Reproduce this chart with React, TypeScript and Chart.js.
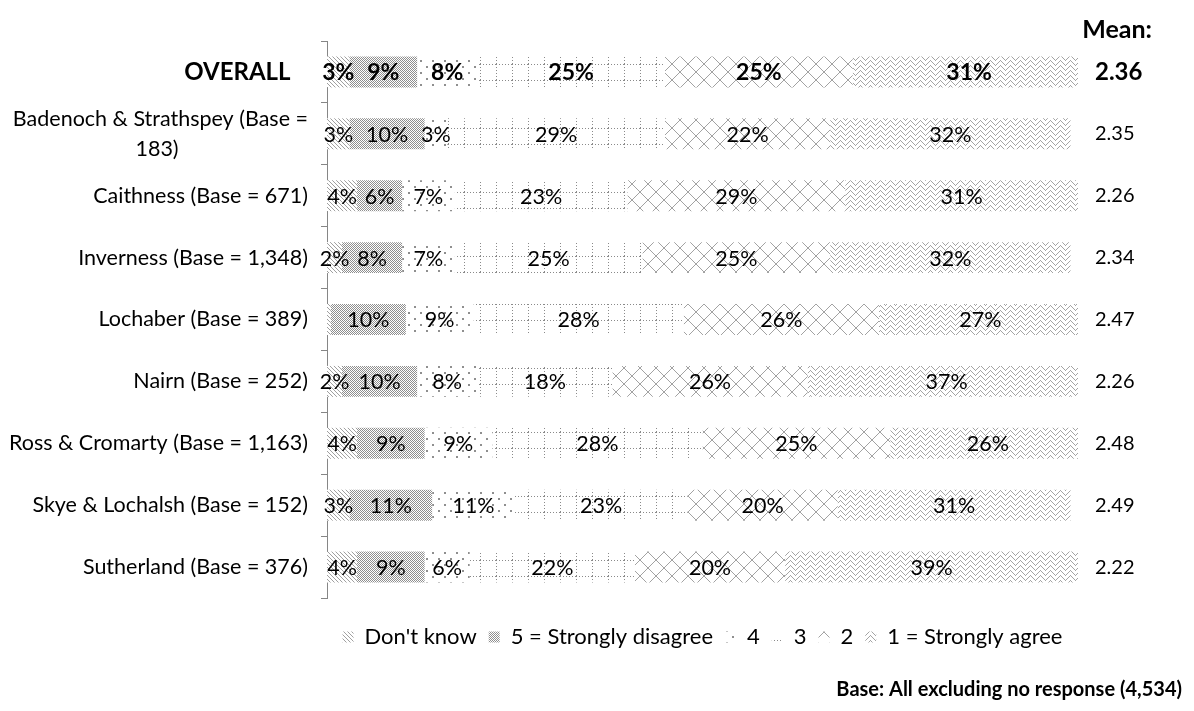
import { useEffect, useRef } from 'react';
import { Chart, registerables } from 'chart.js';

Chart.register(...registerables);

const categories: (string | string[])[] = [
  'OVERALL   ',
  ['Badenoch & Strathspey (Base =', '183)\u2003\u2003\u2003\u2003\u2003\u2003\u2003   '],
  'Caithness (Base = 671)',
  'Inverness (Base = 1,348)',
  'Lochaber (Base = 389)',
  'Nairn (Base = 252)',
  'Ross & Cromarty (Base = 1,163)',
  'Skye & Lochalsh (Base = 152)',
  'Sutherland (Base = 376)',
];
const seriesNames = ["Don't know", '5 = Strongly disagree', '4', '3', '2', '1 = Strongly agree'];
const dontKnow = [3, 3, 4, 2, 0.5, 2, 4, 3, 4];
const disagree5 = [9, 10, 6, 8, 10, 10, 9, 11, 9];
const four = [8, 3, 7, 7, 9, 8, 9, 11, 6];
const three = [25, 29, 23, 25, 28, 18, 28, 23, 22];
const two = [25, 22, 29, 25, 26, 26, 25, 20, 20];
const agree1 = [31, 32, 31, 32, 27, 37, 26, 31, 39];
const means = ['2.36', '2.35', '2.26', '2.34', '2.47', '2.26', '2.48', '2.49', '2.22'];
const meanTitle = 'Mean:';
const footnote = 'Base: All excluding no response (4,534)';

const FONT = 'Lato';

function makeTile(w: number, h: number, draw: (px: (x: number, y: number, s?: number) => void) => void, color: string) {
  const c = document.createElement('canvas');
  c.width = w;
  c.height = h;
  const g = c.getContext('2d')!;
  g.fillStyle = '#ffffff';
  g.fillRect(0, 0, w, h);
  g.fillStyle = color;
  draw((x, y, s = 1) => g.fillRect(x, y, s, s));
  return c;
}

function buildPatterns(ctx: CanvasRenderingContext2D) {
  const tiles = [
    // Don't know: light diagonal
    makeTile(4, 4, (px) => { for (let i = 0; i < 4; i++) px(i, i); }, '#a0a0a0'),
    // 5: fine checker
    makeTile(2, 2, (px) => { px(0, 0); px(1, 1); }, '#8e8e8e'),
    // 4: sparse staggered dots
    makeTile(12, 12, (px) => { px(0, 0, 2); px(6, 6, 2); }, '#8f8f8f'),
    // 3: dotted grid
    makeTile(16, 16, (px) => {
      for (let i = 0; i < 16; i += 3) { px(i, 0); px(0, i); }
    }, '#8a8a8a'),
    // 2: diamond lattice
    makeTile(16, 16, (px) => {
      for (let i = 0; i < 16; i++) { px(i, i); px(15 - i, i); }
    }, '#a2a2a2'),
    // 1: zigzag weave
    makeTile(10, 10, (px) => {
      for (let x = 0; x < 10; x++) {
        const y = x <= 5 ? x : 10 - x;
        px(x, y);
        px(x, (y + 5) % 10);
      }
    }, '#a4a4a4'),
  ];
  return tiles.map((t) => ctx.createPattern(t, 'repeat') as CanvasPattern);
}

const segLabels = {
  id: 'segLabels',
  afterDatasetsDraw(chart: any) {
    const ctx = chart.ctx as CanvasRenderingContext2D;
    ctx.save();
    ctx.textAlign = 'center';
    ctx.textBaseline = 'middle';
    ctx.fillStyle = '#000';
    chart.data.datasets.forEach((ds: any, di: number) => {
      const meta = chart.getDatasetMeta(di);
      meta.data.forEach((el: any, i: number) => {
        const v = ds.data[i];
        if (v == null || v < 1) return;
        const { x, base, y } = el.getProps(['x', 'base', 'y'], true);
        ctx.font = i === 0 ? `bold 23px ${FONT}` : `21.5px ${FONT}`;
        ctx.fillText(`${Math.round(v)}%`, (x + base) / 2, y + 1);
      });
    });
    ctx.restore();
  },
};

const extraText = {
  id: 'extraText',
  afterDraw(chart: any) {
    const ctx = chart.ctx as CanvasRenderingContext2D;
    ctx.save();
    ctx.fillStyle = '#000';
    ctx.textAlign = 'right';
    ctx.textBaseline = 'middle';
    ctx.font = `bold 25px ${FONT}`;
    ctx.fillText(meanTitle, chart.width - 42, 30);
    ctx.font = `bold 20px ${FONT}`;
    ctx.fillText(footnote, chart.width - 12, 690);
    ctx.restore();
  },
};

export default function App() {
  const ref = useRef<HTMLCanvasElement>(null);
  useEffect(() => {
    const canvas = ref.current!;
    const ctx = canvas.getContext('2d')!;
    const pats = buildPatterns(ctx);
    const values = [dontKnow, disagree5, four, three, two, agree1];
    const chart = new Chart(ctx, {
      type: 'bar',
      data: {
        labels: categories,
        datasets: values.map((d, k) => ({
          label: seriesNames[k],
          data: d,
          backgroundColor: pats[k],
          borderWidth: 0,
          barPercentage: 0.5,
          categoryPercentage: 1,
        })),
      },
      options: {
        indexAxis: 'y',
        animation: false,
        responsive: true,
        maintainAspectRatio: false,
        layout: { padding: { top: 41, bottom: 53, left: 0, right: 0 } },
        scales: {
          x: {
            stacked: true,
            min: 0,
            max: 100,
            display: true,
            grid: { display: false },
            border: { display: false },
            ticks: { display: false },
            afterFit: (s: any) => { s.height = 16; },
          },
          y: {
            type: 'category',
            stacked: true,
            position: 'left',
            grid: { drawOnChartArea: false, drawTicks: true, tickLength: 6, color: '#868686', offset: true },
            border: { color: '#868686' },
            ticks: {
              autoSkip: false,
              padding: 13,
              color: '#000',
              font: (c: any) => (c.index === 0
                ? { family: FONT, size: 24, weight: 'bold' }
                : { family: FONT, size: 21.5, weight: 'normal', lineHeight: 1.4 }),
            },
            afterFit: (s: any) => { s.width = 327; },
          },
          y2: {
            type: 'category',
            axis: 'y',
            position: 'right',
            labels: means,
            offset: true,
            grid: { display: false, drawTicks: false },
            border: { display: false },
            ticks: {
              autoSkip: false,
              padding: 17,
              color: '#000',
              font: (c: any) => (c.index === 0
                ? { family: FONT, size: 24, weight: 'bold' }
                : { family: FONT, size: 20, weight: 'normal' }),
            },
            afterFit: (s: any) => { s.width = 116; },
          },
        } as any,
        plugins: {
          legend: {
            position: 'bottom',
            fullSize: false,
            labels: {
              boxWidth: 11,
              boxHeight: 11,
              padding: 12,
              color: '#000',
              font: { family: FONT, size: 22 },
            },
          },
          tooltip: { enabled: false },
        },
      },
      plugins: [segLabels, extraText],
    });
    return () => chart.destroy();
  }, []);
  return (
    <div style={{ position: 'absolute', left: 0, top: 0, width: 1194, height: 711, background: '#fff' }}>
      <canvas ref={ref} />
    </div>
  );
}
